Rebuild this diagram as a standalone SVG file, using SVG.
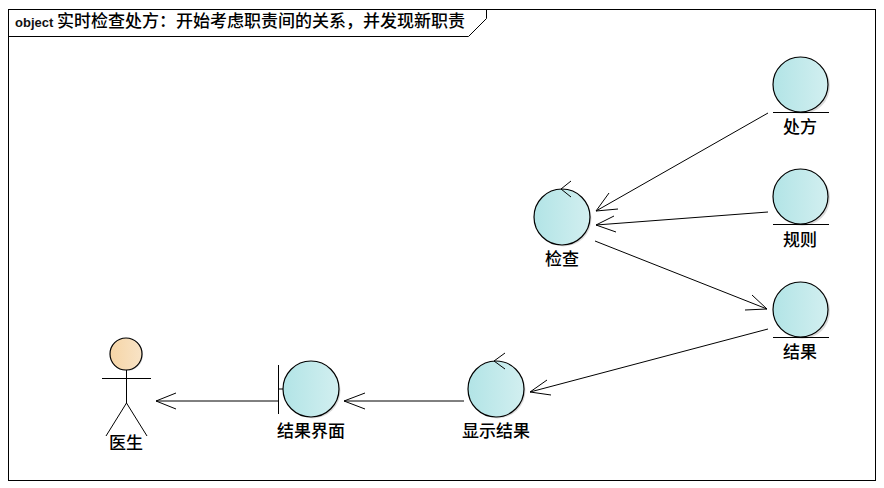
<svg xmlns="http://www.w3.org/2000/svg" width="884" height="488" viewBox="0 0 884 488">
<style>
text{font-family:"Noto Sans CJK SC","Liberation Sans",sans-serif;font-size:17px;font-weight:500;fill:#000;text-anchor:middle}
.ln{fill:none;stroke:#000;stroke-width:1}
.ball{fill:url(#teal);stroke:#000;stroke-width:1.2}
.sh{fill:#000;opacity:.14}
</style>
<defs>
<linearGradient id="teal"><stop offset="0" stop-color="#b2e4e6"/><stop offset="1" stop-color="#d2eff0"/></linearGradient>
<linearGradient id="skin"><stop offset="0" stop-color="#f6d5a6"/><stop offset="1" stop-color="#f8e3c6"/></linearGradient>
</defs>
<rect width="884" height="488" fill="#fff"/>
<g id="frame">
<rect class="ln" x="8.5" y="9.5" width="867" height="471"/>
<path class="ln" d="M8.5 36.5H468.5L486.5 18.5V9.5"/>
<text x="15" y="27" style="font-family:'Liberation Sans',sans-serif;font-size:13px;font-weight:700;text-anchor:start;fill:#111">object</text>
<text x="57" y="27" style="text-anchor:start">实时检查处方：开始考虑职责间的关系，并发现新职责</text>
</g>
<g id="connectors" class="ln">
<path d="M768 113L596 211M618 209L596 211L609 193"/>
<path d="M768 212L596 225M616 232L596 225L614 216"/>
<path d="M595 241L767 309M745 310L767 309L752 295"/>
<path d="M768 329L530 392M551 395L530 392L547 380"/>
<path d="M464 401H344M365 409L344 401L365 393"/>
<path d="M278 401H156M176 409L156 401L176 393"/>
</g>
<g id="chufang">
<circle class="sh" cx="802" cy="86" r="28"/>
<circle class="ball" cx="800.5" cy="84.5" r="27.5"/>
<path class="ln" d="M773 112.500H829"/>
<text x="800" y="133">处方</text>
</g>
<g id="guize">
<circle class="sh" cx="802" cy="198" r="28"/>
<circle class="ball" cx="800.500" cy="196.500" r="27.500"/>
<path class="ln" d="M773 224.500H829"/>
<text x="800" y="246">规则</text>
</g>
<g id="jieguo">
<circle class="sh" cx="802" cy="311" r="28"/>
<circle class="ball" cx="800.500" cy="309.500" r="27.500"/>
<path class="ln" d="M773 337.500H829"/>
<text x="800" y="358">结果</text>
</g>
<g id="jiancha">
<circle class="sh" cx="563.500" cy="218.500" r="28"/>
<circle class="ball" cx="562" cy="217" r="28"/>
<path class="ln" d="M571 181L561 189L571 197"/>
<text x="562" y="265">检查</text>
</g>
<g id="xianshi">
<circle class="sh" cx="497.500" cy="390.500" r="28"/>
<circle class="ball" cx="496" cy="389" r="28"/>
<path class="ln" d="M505 353L494 361L505 369"/>
<text x="496" y="437">显示结果</text>
</g>
<g id="jiemian">
<circle class="sh" cx="312.500" cy="390.500" r="28"/>
<path class="ln" d="M278.500 365V414M278.500 389H283"/>
<circle class="ball" cx="311" cy="389" r="28"/>
<text x="311" y="437">结果界面</text>
</g>
<g id="doctor">
<circle class="sh" cx="127" cy="355" r="16"/>
<circle cx="126" cy="354" r="16" fill="url(#skin)" stroke="#000" stroke-width="1.200"/>
<path class="ln" d="M102 378.500H151M126.500 370V403M126.500 403L106 436M126.500 403L147 436"/>
<text x="126" y="449">医生</text>
</g>
</svg>
